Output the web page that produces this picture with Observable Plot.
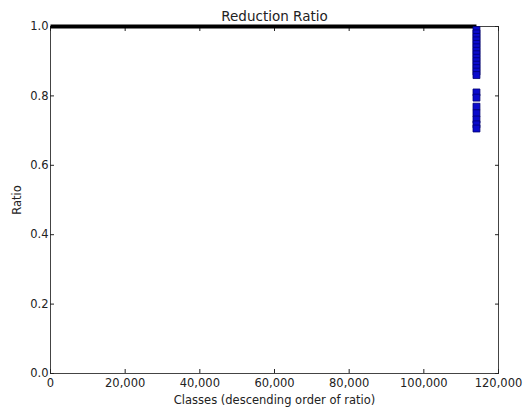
<!DOCTYPE html>
<html>
<head>
<meta charset="utf-8">
<script src="https://cdn.jsdelivr.net/npm/d3@7"></script>
<script src="https://cdn.jsdelivr.net/npm/@observablehq/plot@0.6"></script>
<style>
  html, body { margin: 0; padding: 0; background: #fff; }
  #chart svg { display: block; }
</style>
</head>
<body>
<div id="chart"></div>
<script>
// Data
const chartTitle = "Reduction Ratio";
const xLabel = "Classes (descending order of ratio)";
const yLabel = "Ratio";

// Bulk of classes: ratio 1.0 (rendered as a thick black run)
const headClass = [0, 114100];
const headRatio = [1.0, 1.0];

// Tail of classes with ratio below 1 (blue squares)
const tailClass = [114100, 114100, 114100, 114100, 114100, 114100, 114100, 114100,
                   114100, 114100, 114100, 114100, 114100, 114100,
                   114100, 114100, 114100, 114100, 114100, 114100, 114100];
const tailRatio = [0.990, 0.980, 0.970, 0.960, 0.950, 0.940, 0.930, 0.920,
                   0.910, 0.900, 0.890, 0.880, 0.870, 0.860,
                   0.810, 0.795, 0.769, 0.750, 0.732, 0.718, 0.706];

const xTicks = [0, 20000, 40000, 60000, 80000, 100000, 120000];
const yTicks = [0.0, 0.2, 0.4, 0.6, 0.8, 1.0];

const head = headClass.map((c, i) => ({c, r: headRatio[i]}));
const tail = tailClass.map((c, i) => ({c, r: tailRatio[i]}));

const font = "DejaVu Sans, sans-serif";
const fmtX = d3.format(",");
const fmtY = d3.format(".1f");

const plot = Plot.plot({
  width: 527,
  height: 409,
  marginTop: 26,
  marginBottom: 36,
  marginLeft: 50,
  marginRight: 29,
  style: {fontFamily: font, fontSize: "11.5px", color: "#222", background: "#fff"},
  x: {domain: [0, 120000]},
  y: {domain: [0, 1]},
  marks: [
    Plot.frame({stroke: "#444", strokeWidth: 1}),
    Plot.axisX({anchor: "bottom", ticks: xTicks, tickFormat: fmtX, tickSize: -4, tickPadding: 9,
                label: xLabel, labelAnchor: "center", labelOffset: 30, labelArrow: "none"}),
    Plot.axisX({anchor: "top", ticks: xTicks, tickFormat: () => "", tickSize: -4, label: null}),
    Plot.axisY({anchor: "left", ticks: yTicks, tickFormat: fmtY, tickSize: -4, tickPadding: 6,
                label: yLabel, labelAnchor: "center", labelOffset: 38, labelArrow: "none"}),
    Plot.axisY({anchor: "right", ticks: yTicks, tickFormat: () => "", tickSize: -4, label: null}),
    Plot.line(head, {x: "c", y: "r", stroke: "#000", strokeWidth: 4, strokeLinecap: "butt"}),
    Plot.dot(tail, {x: "c", y: "r", symbol: "square", r: 3.9, fill: "#0a0acc", stroke: "#000070", strokeWidth: 0.8}),
    Plot.text([chartTitle], {text: d => d, frameAnchor: "top", dy: -15, fontSize: 13.5, fill: "#222"})
  ]
});
document.getElementById("chart").appendChild(plot);
</script>
</body>
</html>
